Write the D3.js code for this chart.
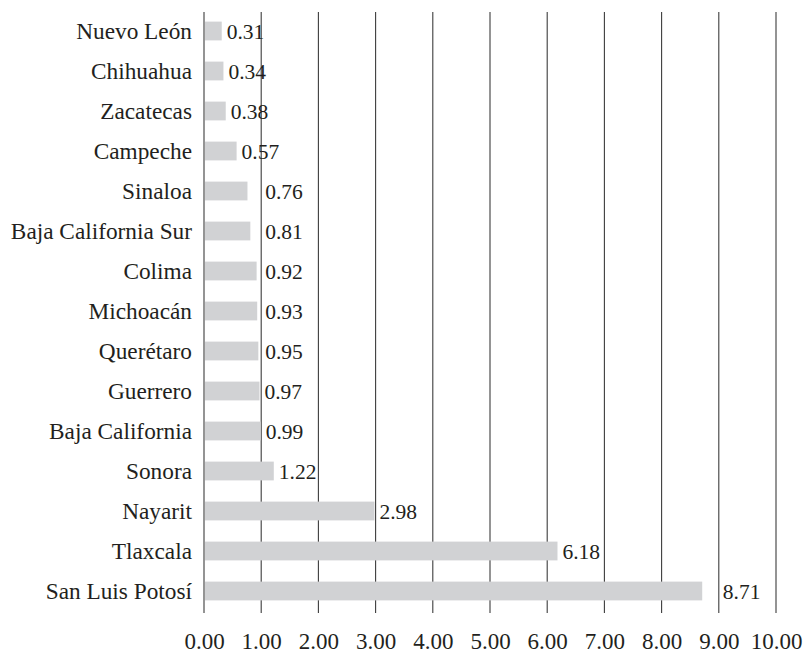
<!DOCTYPE html>
<html>
<head>
<meta charset="utf-8">
<script src="https://cdn.jsdelivr.net/npm/d3@7"></script>
<style>
  html, body { margin: 0; padding: 0; background: #fff; }
  svg { display: block; }
</style>
</head>
<body>
<svg id="chart" width="812" height="653"></svg>
<script>
// States, top to bottom
const states = [
  "Nuevo León", "Chihuahua", "Zacatecas", "Campeche", "Sinaloa",
  "Baja California Sur", "Colima", "Michoacán", "Querétaro", "Guerrero",
  "Baja California", "Sonora", "Nayarit", "Tlaxcala", "San Luis Potosí"
];
const values = [
  0.31, 0.34, 0.38, 0.57, 0.76,
  0.81, 0.92, 0.93, 0.95, 0.97,
  0.99, 1.22, 2.98, 6.18, 8.71
];
const tickValues = [0, 1, 2, 3, 4, 5, 6, 7, 8, 9, 10];
const tickLabels = ["0.00", "1.00", "2.00", "3.00", "4.00", "5.00",
                    "6.00", "7.00", "8.00", "9.00", "10.00"];

const data = states.map((s, i) => ({ state: s, value: values[i] }));

const svg = d3.select("#chart");
const serif = "Liberation Serif";
const ink = "#231f20";

const x = d3.scaleLinear().domain([0, 10]).range([204, 776]);
const y = d3.scaleBand().domain(states).range([11, 611]).paddingInner(0.53).paddingOuter(0.265);

// vertical gridlines (the 0 line doubles as the category axis)
svg.append("g")
  .selectAll("line")
  .data(tickValues)
  .join("line")
  .attr("x1", d => x(d)).attr("x2", d => x(d))
  .attr("y1", 12).attr("y2", 613)
  .attr("stroke", "#3c3c3c")
  .attr("stroke-width", 1.1);

// bars
svg.append("g")
  .selectAll("rect")
  .data(data)
  .join("rect")
  .attr("x", x(0) + 1)
  .attr("y", d => y(d.state))
  .attr("width", d => Math.max(0, x(d.value) - x(0) - 1))
  .attr("height", y.bandwidth())
  .attr("fill", "#d1d2d4");

// value labels: placed after the bar end, or just past the next gridline
// when the bar stops right before it
function labelX(v) {
  const next = Math.ceil(v);
  if (next - v < 0.3 && next - v > 0.05) return x(next) + 4;
  return x(v) + 5;
}
svg.append("g")
  .selectAll("text")
  .data(data)
  .join("text")
  .attr("x", d => labelX(d.value))
  .attr("y", d => y(d.state) + y.bandwidth() / 2)
  .attr("dy", "0.35em")
  .attr("font-family", serif)
  .attr("font-size", 21.5)
  .attr("fill", ink)
  .text(d => d.value.toFixed(2));

// category labels
svg.append("g")
  .selectAll("text")
  .data(data)
  .join("text")
  .attr("x", x(0) - 12)
  .attr("y", d => y(d.state) + y.bandwidth() / 2)
  .attr("dy", "0.35em")
  .attr("text-anchor", "end")
  .attr("font-family", serif)
  .attr("font-size", 23.3)
  .attr("fill", ink)
  .text(d => d.state);

// x axis tick labels
const axis = d3.axisBottom(x)
  .tickValues(tickValues)
  .tickFormat((d, i) => tickLabels[i])
  .tickSize(0)
  .tickPadding(0);
const gAxis = svg.append("g")
  .attr("transform", "translate(0,633)")
  .call(axis);
gAxis.select(".domain").remove();
gAxis.attr("font-family", serif);
gAxis.selectAll("text")
  .attr("font-family", serif)
  .attr("font-size", 23)
  .attr("fill", ink)
  .attr("dy", "0.71em");
</script>
</body>
</html>
